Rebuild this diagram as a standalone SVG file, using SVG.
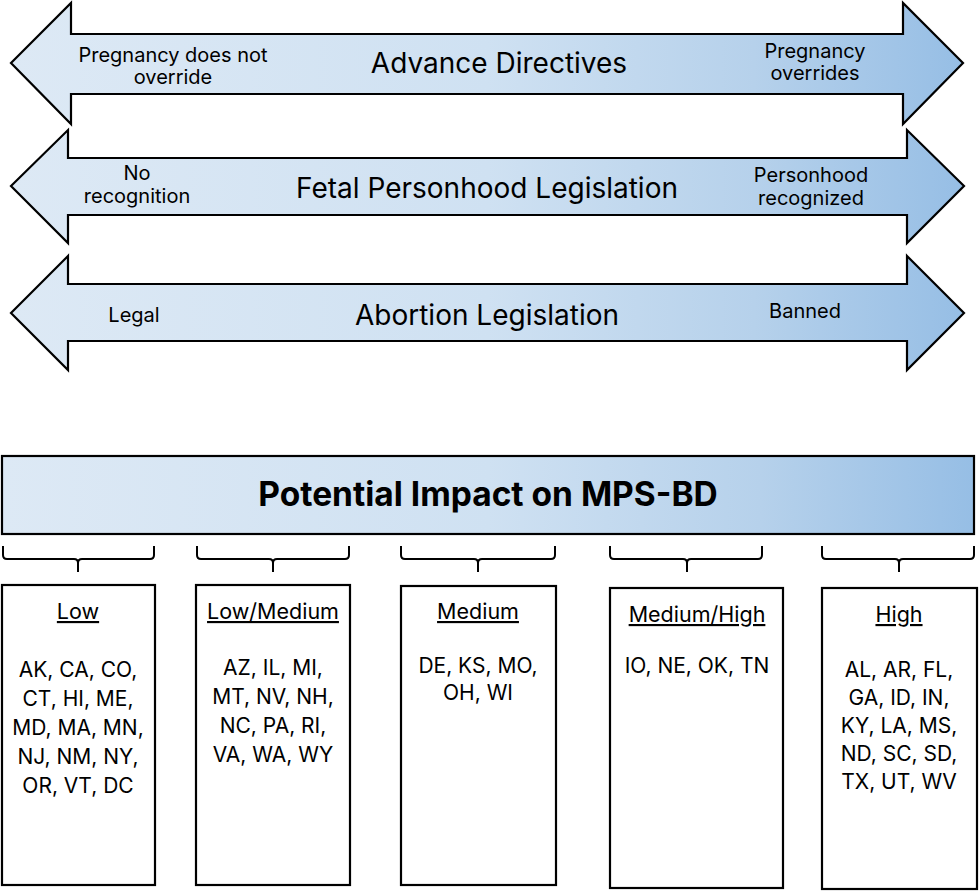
<svg xmlns="http://www.w3.org/2000/svg" width="979" height="891" viewBox="0 0 979 891">
<defs>
<linearGradient id="blue" x1="0" y1="0" x2="1" y2="0">
<stop offset="0" stop-color="#dde9f5"/>
<stop offset="0.5" stop-color="#cfe1f2"/>
<stop offset="0.78" stop-color="#b6d1eb"/>
<stop offset="1" stop-color="#96bee5"/>
</linearGradient>
<style>
.arrow{fill:url(#blue);stroke:#000;stroke-width:2.2;stroke-linejoin:miter}
.box{fill:#fff;stroke:#000;stroke-width:2.2}
.banner{fill:url(#blue);stroke:#000;stroke-width:2.2}
.brace{fill:none;stroke:#000;stroke-width:2}
text{font-family:Inter,"Open Sans","Liberation Sans",sans-serif;fill:#000;text-anchor:middle}
.small{font-size:20px}
.big{font-size:28px}
.title{font-size:33.5px;font-weight:bold}
.head{font-size:21.5px;text-decoration:underline}
.st{font-size:21px}
</style>
</defs>

<g id="arrow-advance-directives">
<polygon class="arrow" points="11,63 71,3 71,34 903,34 903,3 963,63 903,124 903,94 71,94 71,124"/>
<text class="small" x="173" y="62">Pregnancy does not<tspan x="173" dy="22">override</tspan></text>
<text class="big" x="499" y="73">Advance Directives</text>
<text class="small" x="815" y="58">Pregnancy<tspan x="815" dy="22">overrides</tspan></text>
</g>

<g id="arrow-fetal-personhood">
<polygon class="arrow" points="11,186 68,130 68,158 907,158 907,130 964,186 907,243 907,215 68,215 68,243"/>
<text class="small" x="137" y="180">No<tspan x="137" dy="23">recognition</tspan></text>
<text class="big" x="487" y="198">Fetal Personhood Legislation</text>
<text class="small" x="811" y="182">Personhood<tspan x="811" dy="23">recognized</tspan></text>
</g>

<g id="arrow-abortion">
<polygon class="arrow" points="11,313 68,256 68,284 907,284 907,256 964,313 907,370 907,341 68,341 68,370"/>
<text class="small" x="134" y="322">Legal</text>
<text class="big" x="487" y="325">Abortion Legislation</text>
<text class="small" x="805" y="318">Banned</text>
</g>

<g id="banner-impact">
<rect class="banner" x="2" y="456" width="972" height="78"/>
<text class="title" x="488" y="506">Potential Impact on MPS-BD</text>
</g>

<g id="connectors">
<path class="brace" d="M3,546 V555 Q3,559 7,559 H74 Q78,559 78,563 V572 M78,563 Q78,559 82,559 H150 Q154,559 154,555 V546"/>
<path class="brace" d="M197,546 V555 Q197,559 201,559 H269 Q273,559 273,563 V572 M273,563 Q273,559 277,559 H345 Q349,559 349,555 V546"/>
<path class="brace" d="M401,546 V555 Q401,559 405,559 H474 Q478,559 478,563 V572 M478,563 Q478,559 482,559 H551 Q555,559 555,555 V546"/>
<path class="brace" d="M610,546 V555 Q610,559 614,559 H683 Q687,559 687,563 V572 M687,563 Q687,559 691,559 H758 Q762,559 762,555 V546"/>
<path class="brace" d="M822,546 V555 Q822,559 826,559 H895 Q899,559 899,563 V572 M899,563 Q899,559 903,559 H970 Q974,559 974,555 V546"/>
</g>

<g id="box-low">
<rect class="box" x="2" y="585" width="153" height="300"/>
<text class="head" x="78" y="619">Low</text>
<text class="st" x="78" y="677">AK, CA, CO,</text>
<text class="st" x="78" y="706">CT, HI, ME,</text>
<text class="st" x="78" y="735">MD, MA, MN,</text>
<text class="st" x="78" y="764">NJ, NM, NY,</text>
<text class="st" x="78" y="793">OR, VT, DC</text>
</g>

<g id="box-low-medium">
<rect class="box" x="196" y="585" width="154" height="300"/>
<text class="head" x="273" y="619">Low/Medium</text>
<text class="st" x="273" y="675">AZ, IL, MI,</text>
<text class="st" x="273" y="704">MT, NV, NH,</text>
<text class="st" x="273" y="733">NC, PA, RI,</text>
<text class="st" x="273" y="762">VA, WA, WY</text>
</g>

<g id="box-medium">
<rect class="box" x="401" y="586" width="155" height="299"/>
<text class="head" x="478" y="619">Medium</text>
<text class="st" x="478" y="673">DE, KS, MO,</text>
<text class="st" x="478" y="700">OH, WI</text>
</g>

<g id="box-medium-high">
<rect class="box" x="610" y="588" width="173" height="300"/>
<text class="head" x="697" y="622">Medium/High</text>
<text class="st" x="697" y="673">IO, NE, OK, TN</text>
</g>

<g id="box-high">
<rect class="box" x="822" y="588" width="155" height="301"/>
<text class="head" x="899" y="622">High</text>
<text class="st" x="899" y="677">AL, AR, FL,</text>
<text class="st" x="899" y="705">GA, ID, IN,</text>
<text class="st" x="899" y="733">KY, LA, MS,</text>
<text class="st" x="899" y="761">ND, SC, SD,</text>
<text class="st" x="899" y="789">TX, UT, WV</text>
</g>
</svg>
